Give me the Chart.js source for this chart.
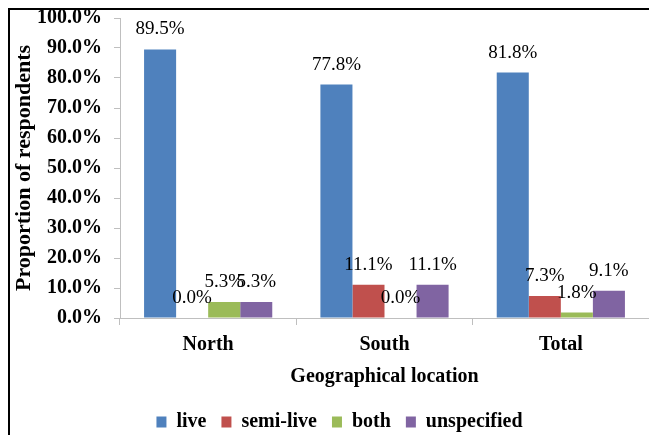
<!DOCTYPE html>
<html>
<head>
<meta charset="utf-8">
<script src="https://cdn.jsdelivr.net/npm/chart.js@4/dist/chart.umd.min.js"></script>
<style>
  html, body { margin: 0; padding: 0; background: #ffffff; overflow: hidden; }
  #wrap { width: 649px; height: 435px; }
</style>
</head>
<body>
<div id="wrap"><canvas id="chart" width="649" height="435"></canvas></div>
<script>
// Share of respondents (%) by geographical location
const categories = ['North', 'South', 'Total'];
const live = [89.5, 77.8, 81.8];
const semiLive = [0.0, 11.1, 7.3];
const both = [5.3, 0.0, 1.8];
const unspecified = [5.3, 11.1, 9.1];
const seriesNames = ['live', 'semi-live', 'both', 'unspecified'];
const yTicks = [0, 10, 20, 30, 40, 50, 60, 70, 80, 90, 100];

const SERIF = "'Liberation Serif', 'Times New Roman', serif";
const AXIS_GREY = '#bfbfbf';

const fmt = v => v.toFixed(1) + '%';

// Percentage labels printed above every bar
const valueLabels = {
  id: 'valueLabels',
  afterDatasetsDraw(chart) {
    const ctx = chart.ctx;
    ctx.save();
    ctx.font = '19px ' + SERIF;
    ctx.fillStyle = '#000000';
    ctx.textAlign = 'center';
    ctx.textBaseline = 'middle';
    chart.data.datasets.forEach((ds, i) => {
      chart.getDatasetMeta(i).data.forEach((bar, j) => {
        ctx.fillText(fmt(ds.data[j]), bar.x, bar.y - 20);
      });
    });
    ctx.restore();
  }
};

// White page with the black frame on the top and left edges
const frame = {
  id: 'frame',
  beforeDraw(chart) {
    const ctx = chart.ctx;
    ctx.save();
    ctx.fillStyle = '#ffffff';
    ctx.fillRect(0, 0, chart.width, chart.height);
    ctx.restore();
  },
  afterDraw(chart) {
    const ctx = chart.ctx;
    ctx.save();
    ctx.strokeStyle = '#000000';
    ctx.lineWidth = 2;
    ctx.beginPath();
    ctx.moveTo(9, chart.height);
    ctx.lineTo(9, 9);
    ctx.lineTo(chart.width, 9);
    ctx.stroke();
    ctx.restore();
  }
};

// Nudge the legend row a little to the right
const legendShift = {
  id: 'legendShift',
  afterLayout(chart) {
    if (chart.legend) {
      chart.legend.left += 15;
      chart.legend.right += 15;
    }
  }
};

const colors = ['#4f81bd', '#c0504d', '#9bbb59', '#8064a2'];
const values = [live, semiLive, both, unspecified];

new Chart(document.getElementById('chart'), {
  type: 'bar',
  data: {
    labels: categories,
    datasets: values.map((data, i) => ({
      label: seriesNames[i],
      data: data,
      backgroundColor: colors[i],
      borderWidth: 0,
      barPercentage: 1.0,
      categoryPercentage: 0.727
    }))
  },
  options: {
    responsive: false,
    devicePixelRatio: 1,
    animation: false,
    layout: { padding: { left: 0, right: 0, top: 18, bottom: -7 } },
    plugins: {
      tooltip: { enabled: false },
      legend: {
        position: 'bottom',
        labels: {
          color: '#000000',
          font: { family: SERIF, size: 20, weight: 'bold' },
          boxWidth: 10,
          boxHeight: 11,
          padding: 15
        }
      }
    },
    scales: {
      x: {
        afterFit(scale) {
          scale.height = 79;
        },
        grid: {
          display: true,
          drawOnChartArea: false,
          drawTicks: true,
          tickLength: 7,
          color: AXIS_GREY,
          offset: true
        },
        border: { display: true, color: AXIS_GREY, width: 1 },
        ticks: {
          color: '#000000',
          padding: 8,
          font: { family: SERIF, size: 20, weight: 'bold' }
        },
        title: {
          display: true,
          text: 'Geographical location',
          color: '#000000',
          font: { family: SERIF, size: 20, weight: 'bold' },
          padding: { top: 8, bottom: 8 }
        }
      },
      y: {
        min: 0,
        max: 100,
        afterBuildTicks(scale) {
          scale.ticks = yTicks.map(v => ({ value: v }));
        },
        afterFit(scale) {
          scale.width = 120;
          scale.paddingTop = 0;
          scale.paddingBottom = 0;
        },
        grid: {
          display: true,
          drawOnChartArea: false,
          drawTicks: true,
          tickLength: 6,
          color: AXIS_GREY
        },
        border: { display: true, color: AXIS_GREY, width: 1 },
        ticks: {
          color: '#000000',
          padding: 12,
          font: { family: SERIF, size: 20, weight: 'bold' },
          callback: v => fmt(v)
        },
        title: {
          display: true,
          text: 'Proportion of respondents',
          color: '#000000',
          font: { family: SERIF, size: 22, weight: 'bold' },
          padding: { top: 11, bottom: 0 }
        }
      }
    }
  },
  plugins: [frame, valueLabels, legendShift]
});
</script>
</body>
</html>
